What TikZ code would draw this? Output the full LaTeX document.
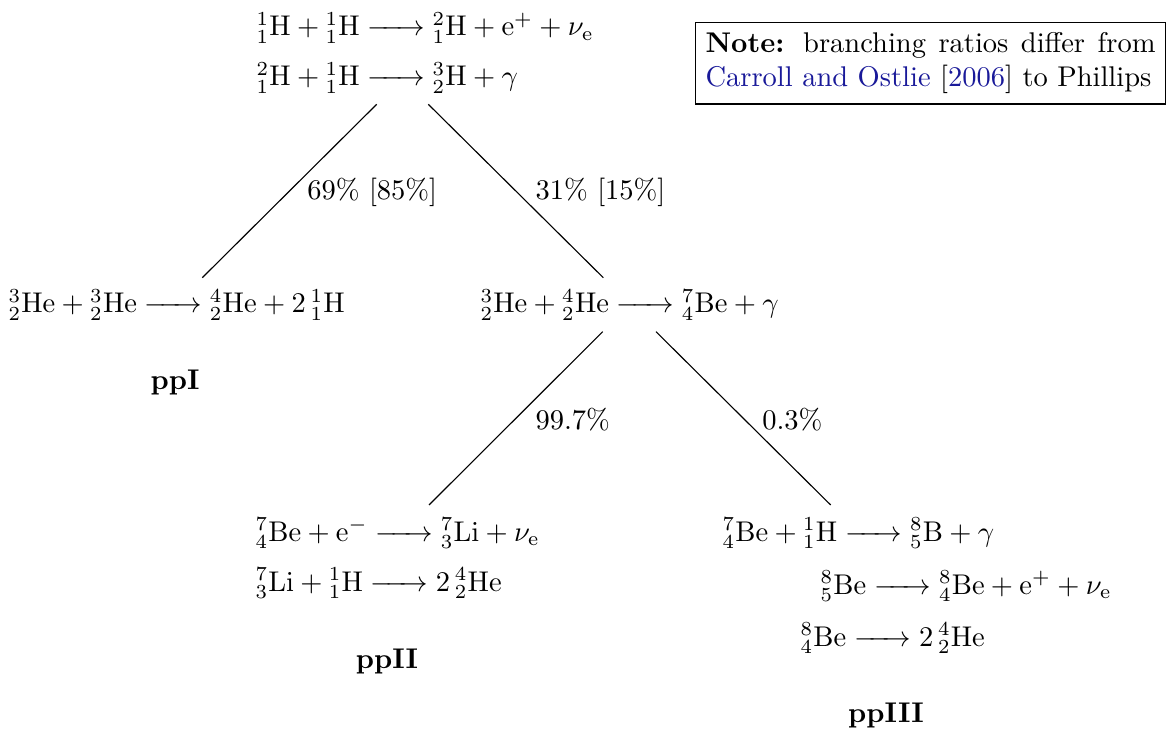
\documentclass[tikz,border=0pt]{standalone}
\usepackage{amsmath}
\definecolor{citeblue}{rgb}{0.1,0.1,0.6}
\newcommand\nuc[3]{{}^{#1}_{#2}\mathrm{#3}}
\newcommand\rarr{\mathrel{\hbox to 2em{\rightarrowfill}}}
\begin{document}
\begin{tikzpicture}[x=0.35088pt,y=-0.35088pt,
  eq/.style={anchor=base west,inner sep=0pt},
  lbl/.style={anchor=base west,inner sep=0pt},
  chain/.style={anchor=base,inner sep=0pt,font=\bfseries},
  branch/.style={draw,line width=0.4pt},
  notebox/.style={draw,line width=0.4pt,anchor=north west,inner sep=3.5pt,text width=157.9pt,align=justify}]
\useasboundingbox (0,0) rectangle (1174,731);
% top
\node[eq] (t1) at (256,36) {$\nuc11H + \nuc11H \rarr \nuc21H + \mathrm{e}^+ + \nu_\mathrm{e}$};
\node[eq] (t2) at (256,86) {$\nuc21H + \nuc11H \rarr \nuc32H + \gamma$};
% note
\node[notebox] (note) at (695,22) {\textbf{Note:} branching ratios differ from\linebreak \textcolor{citeblue}{Carroll and Ostlie} [\textcolor{citeblue}{2006}] to Phillips};
% second row
\node[eq] (r1) at (8,313) {$\nuc32{He} + \nuc32{He} \rarr \nuc42{He} + 2\,\nuc11H$};
\node[eq] (r2) at (480,313) {$\nuc32{He} + \nuc42{He} \rarr \nuc74{Be} + \gamma$};
\node[chain] (ppI) at (175,390) {ppI};
% bottom left
\node[eq] (b1) at (255,541) {$\nuc74{Be} + \mathrm{e}^- \rarr \nuc73{Li} + \nu_\mathrm{e}$};
\node[eq] (b2) at (255,591) {$\nuc73{Li} + \nuc11H \rarr 2\,\nuc42{He}$};
\node[chain] (ppII) at (387,668) {ppII};
% bottom right
\node[eq] (c1) at (722,541) {$\nuc74{Be} + \nuc11H \rarr \nuc85B + \gamma$};
\node[eq] (c2) at (820,594) {$\nuc85{Be} \rarr \nuc84{Be} + \mathrm{e}^+ + \nu_\mathrm{e}$};
\node[eq] (c3) at (800,646) {$\nuc84{Be} \rarr 2\,\nuc42{He}$};
\node[chain] (ppIII) at (886,722) {ppIII};
% branch end points
\coordinate (a1) at (376.7,104.3);
\coordinate (a2) at (202.3,277.7);
\coordinate (a3) at (428.3,104.3);
\coordinate (a4) at (603.3,277.7);
\coordinate (a5) at (602.7,331.7);
\coordinate (a6) at (429,505);
\coordinate (a7) at (656,331.7);
\coordinate (a8) at (830.7,505);
\draw[branch] (a1) -- (a2);
\draw[branch] (a3) -- (a4);
\draw[branch] (a5) -- (a6);
\draw[branch] (a7) -- (a8);
% labels
\node[lbl] (l1) at (306.7,200) {69\% [85\%]};
\node[lbl] (l2) at (535,200) {31\% [15\%]};
\node[lbl] (l3) at (535,430) {99.7\%};
\node[lbl] (l4) at (761.7,430) {0.3\%};
\end{tikzpicture}
\end{document}
